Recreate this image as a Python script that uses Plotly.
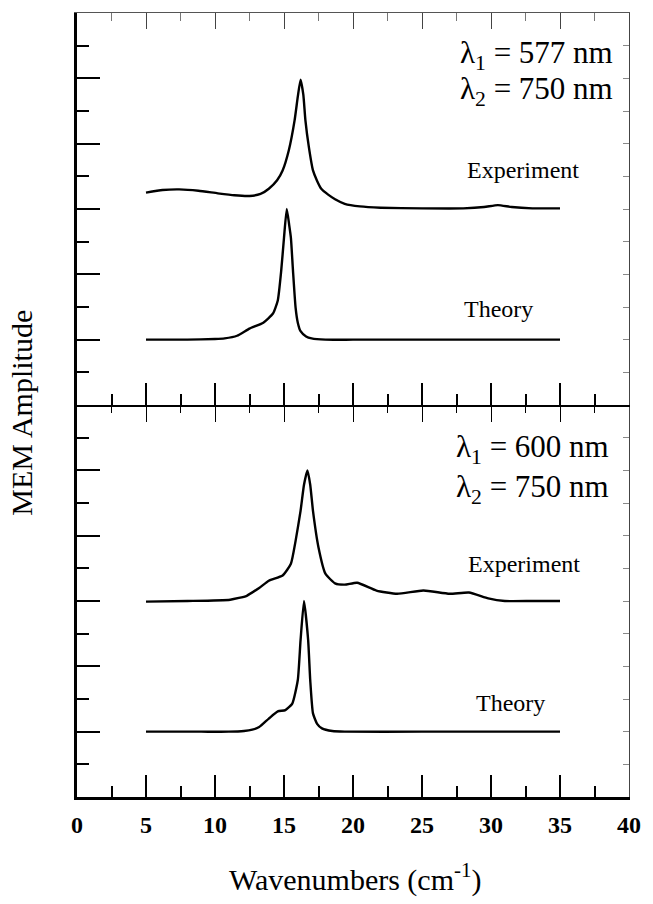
import plotly.graph_objects as go

# ---------------- data ----------------
# Top panel (lambda1 = 577 nm)
top_exp_x = [5.0, 6.2, 7.4, 8.8, 10.2, 11.4, 12.5, 13.3, 13.9, 14.5, 14.9, 15.35, 15.77, 16.0, 16.2, 16.4, 16.55, 16.8, 17.1, 17.4, 17.7, 18.2, 18.7, 19.4, 20.5, 22.0, 25.0, 28.0, 29.5, 30.5, 31.5, 33.0, 35.0]
top_exp_y = [3.25, 3.29, 3.30, 3.28, 3.24, 3.21, 3.20, 3.23, 3.31, 3.44, 3.59, 3.90, 4.36, 4.72, 4.98, 4.75, 4.36, 3.95, 3.59, 3.43, 3.31, 3.22, 3.15, 3.08, 3.04, 3.02, 3.01, 3.01, 3.03, 3.06, 3.03, 3.01, 3.01]

top_th_x = [5.0, 8.0, 10.0, 10.7, 11.6, 12.5, 13.5, 14.2, 14.55, 14.8, 15.0, 15.2, 15.38, 15.5, 15.65, 15.84, 16.0, 16.2, 16.6, 17.0, 18.0, 20.0, 25.0, 30.0, 35.0]
top_th_y = [1.00, 1.00, 1.01, 1.02, 1.06, 1.17, 1.26, 1.40, 1.60, 2.06, 2.56, 3.00, 2.75, 2.56, 2.06, 1.49, 1.26, 1.13, 1.05, 1.02, 1.00, 1.00, 1.00, 1.00, 1.00]

# Bottom panel (lambda1 = 600 nm)
bot_exp_x = [5.0, 8.0, 11.1, 12.3, 13.2, 13.9, 14.9, 15.5, 15.84, 16.2, 16.45, 16.7, 16.9, 17.1, 17.5, 18.0, 18.7, 19.4, 20.3, 21.7, 23.2, 25.1, 27.0, 28.4, 29.8, 31.0, 33.0, 35.0]
bot_exp_y = [2.99, 3.00, 3.02, 3.08, 3.20, 3.31, 3.39, 3.57, 3.92, 4.38, 4.78, 5.00, 4.78, 4.38, 3.82, 3.42, 3.27, 3.25, 3.28, 3.16, 3.11, 3.16, 3.11, 3.13, 3.04, 3.00, 3.00, 3.00]

bot_th_x = [5.0, 9.0, 11.0, 12.1, 12.7, 13.2, 13.9, 14.55, 15.1, 15.6, 16.0, 16.2, 16.45, 16.75, 16.9, 17.1, 17.4, 17.75, 18.5, 19.4, 25.0, 30.0, 35.0]
bot_th_y = [1.00, 1.00, 1.00, 1.01, 1.03, 1.07, 1.20, 1.31, 1.33, 1.43, 1.79, 2.40, 3.00, 2.40, 1.79, 1.28, 1.12, 1.05, 1.01, 1.00, 1.00, 1.00, 1.00]

x_tick_vals = [0, 5, 10, 15, 20, 25, 30, 35, 40]
x_tick_text = ["0", "5", "10", "15", "20", "25", "30", "35", "40"]

SERIF = "Liberation Serif"
LINE = dict(color="black", width=2.4, shape="spline", smoothing=0.5)

fig = go.Figure()
fig.add_trace(go.Scatter(x=top_exp_x, y=top_exp_y, mode="lines", line=LINE, xaxis="x2", yaxis="y2", showlegend=False))
fig.add_trace(go.Scatter(x=top_th_x, y=top_th_y, mode="lines", line=LINE, xaxis="x2", yaxis="y2", showlegend=False))
fig.add_trace(go.Scatter(x=bot_exp_x, y=bot_exp_y, mode="lines", line=LINE, xaxis="x", yaxis="y", showlegend=False))
fig.add_trace(go.Scatter(x=bot_th_x, y=bot_th_y, mode="lines", line=LINE, xaxis="x", yaxis="y", showlegend=False))
# empty traces so the overlay (mirror-tick) axes are drawn
for xa, ya in [("x3", "y"), ("x4", "y2"), ("x", "y3"), ("x2", "y4")]:
    fig.add_trace(go.Scatter(x=[None], y=[None], xaxis=xa, yaxis=ya, showlegend=False, hoverinfo="skip"))

XR = [0, 40]
YR = [0, 6]

def xax(**kw):
    d = dict(range=XR, showgrid=False, zeroline=False, ticks="inside", tickcolor="black",
             dtick=5, tick0=0, showticklabels=False, showline=True, linecolor="black")
    d.update(kw)
    return d

def yax(**kw):
    d = dict(range=YR, showgrid=False, zeroline=False, ticks="inside", tickcolor="black",
             dtick=1, tick0=0, showticklabels=False, showline=True, linecolor="black")
    d.update(kw)
    return d

fig.update_layout(
    width=653, height=904,
    margin=dict(l=77, r=13, t=13, b=107),
    paper_bgcolor="white", plot_bgcolor="white",
    font=dict(family=SERIF, color="black"),
    # bottom panel bottom axis
    xaxis=xax(anchor="y", domain=[0, 1], ticklen=22, tickwidth=2, linewidth=2.5,
              minor=dict(dtick=2.5, ticks="inside", ticklen=11, tickwidth=2, tickcolor="black", showgrid=False),
              showticklabels=True, tickmode="array", tickvals=x_tick_vals,
              ticktext=["<b>" + t + "</b>" for t in x_tick_text],
              tickfont=dict(family=SERIF, size=24, color="black"), ticklabelstandoff=4),
    # top panel bottom axis (middle line, ticks upward)
    xaxis2=xax(anchor="y2", matches="x", ticklen=22, tickwidth=1.5, linewidth=1.5,
               minor=dict(dtick=2.5, ticks="inside", ticklen=11, tickwidth=1.5, tickcolor="black", showgrid=False)),
    # bottom panel top axis (middle line, ticks downward)
    xaxis3=xax(anchor="y", overlaying="x", side="top", ticklen=17, tickwidth=1.2, showline=False,
               minor=dict(dtick=2.5, ticks="inside", ticklen=8, tickwidth=1.2, tickcolor="black", showgrid=False)),
    # top panel top frame
    xaxis4=xax(anchor="y2", overlaying="x2", side="top", ticklen=16, tickwidth=1, linewidth=1, linecolor="#555555", tickcolor="#444444",
               minor=dict(dtick=2.5, ticks="inside", ticklen=8, tickwidth=1, tickcolor="#777777", showgrid=False)),
    yaxis=yax(domain=[0, 0.5], anchor="x", ticklen=23, tickwidth=2, linewidth=2.5,
              minor=dict(dtick=0.5, ticks="inside", ticklen=12, tickwidth=2, tickcolor="black", showgrid=False)),
    yaxis2=yax(domain=[0.5, 1], anchor="x2", ticklen=23, tickwidth=2, linewidth=2.5,
               minor=dict(dtick=0.5, ticks="inside", ticklen=12, tickwidth=2, tickcolor="black", showgrid=False)),
    yaxis3=yax(overlaying="y", side="right", anchor="x", ticklen=6, tickwidth=1, linewidth=1.2, linecolor="#444444",
               tickcolor="#888888", minor=dict(dtick=0.5, ticks="inside", ticklen=6, tickwidth=1, tickcolor="#888888", showgrid=False)),
    yaxis4=yax(overlaying="y2", side="right", anchor="x2", ticklen=6, tickwidth=1, linewidth=1.2, linecolor="#444444",
               tickcolor="#888888", minor=dict(dtick=0.5, ticks="inside", ticklen=6, tickwidth=1, tickcolor="#888888", showgrid=False)),
)

ann = []
def label(text, x, y, xref, yref, size, xanchor="center"):
    ann.append(dict(text=text, x=x, y=y, xref=xref, yref=yref, showarrow=False,
                    xanchor=xanchor, yanchor="middle", font=dict(family=SERIF, size=size, color="black")))

label("λ<sub>1</sub> = 577 nm", 39.0, 5.36, "x2", "y2", 31, "right")
label("λ<sub>2</sub> = 750 nm", 39.0, 4.80, "x2", "y2", 31, "right")
label("Experiment", 32.3, 3.59, "x2", "y2", 24)
label("Theory", 30.55, 1.47, "x2", "y2", 24)
label("λ<sub>1</sub> = 600 nm", 38.7, 5.32, "x", "y", 31, "right")
label("λ<sub>2</sub> = 750 nm", 38.7, 4.71, "x", "y", 31, "right")
label("Experiment", 32.4, 3.57, "x", "y", 24)
label("Theory", 31.4, 1.44, "x", "y", 24)

ann.append(dict(text="Wavenumbers (cm<sup>-1</sup>)", x=0.505, y=-0.103, xref="paper", yref="paper",
                showarrow=False, xanchor="center", yanchor="middle",
                font=dict(family=SERIF, size=30, color="black")))
ann.append(dict(text="MEM Amplitude", x=-0.1, y=0.49, xref="paper", yref="paper", textangle=-90,
                showarrow=False, xanchor="center", yanchor="middle",
                font=dict(family=SERIF, size=30, color="black")))
fig.update_layout(annotations=ann)

fig.write_html("out.html")
